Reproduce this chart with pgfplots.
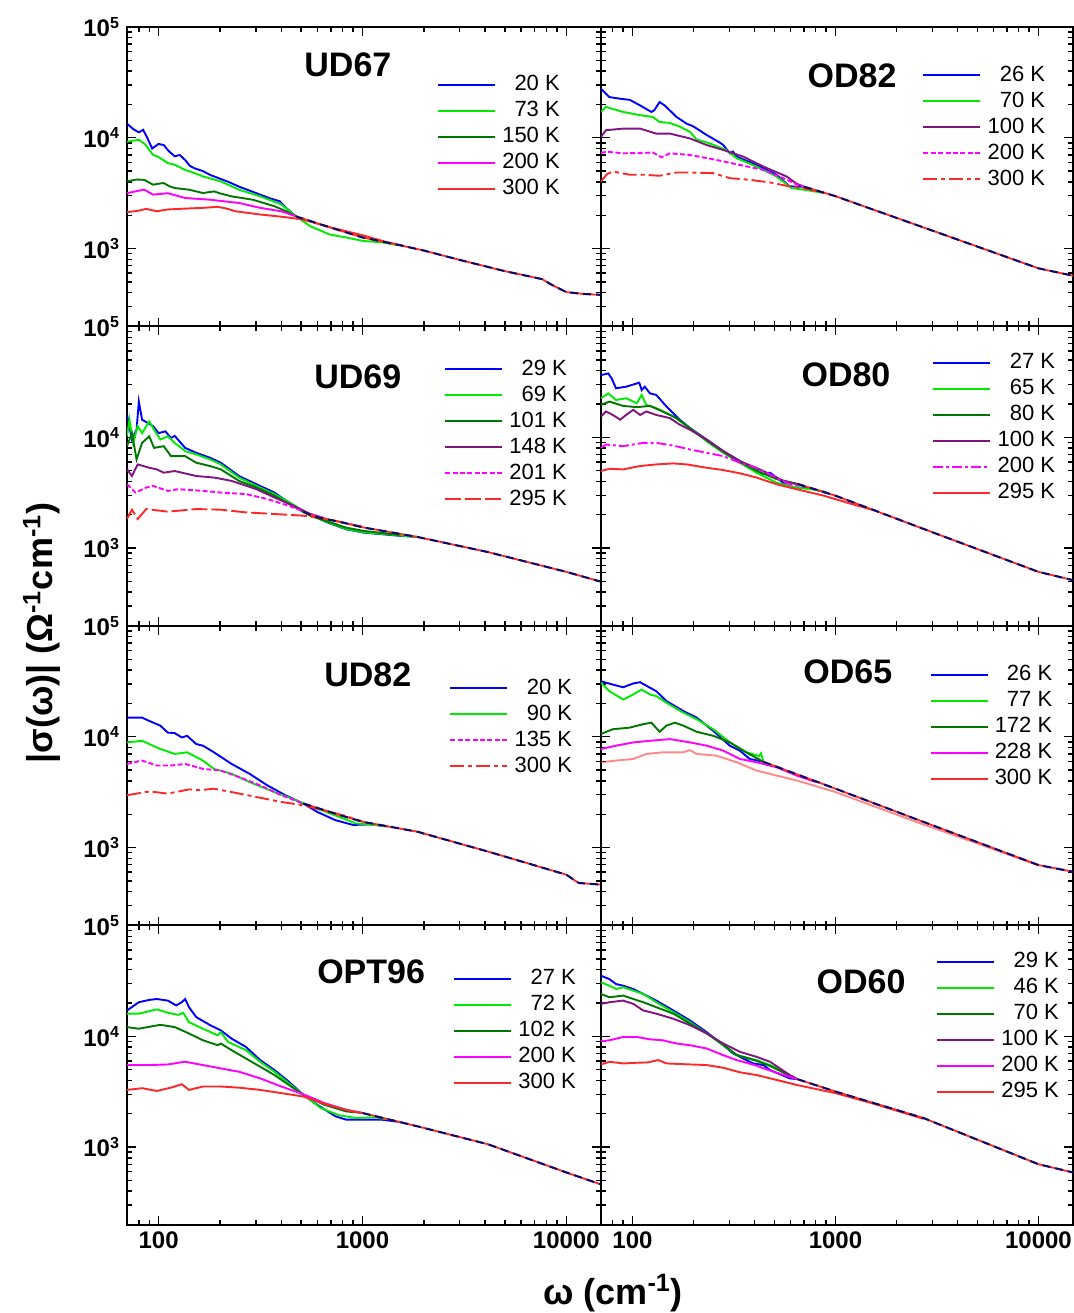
\documentclass[border=0pt]{standalone}
\usepackage{fontspec}
\setmainfont{Liberation Sans}
\usepackage{pgfplots}
\pgfplotsset{compat=1.18}
\definecolor{cblue}{RGB}{0,0,255}
\definecolor{cgreen}{RGB}{0,235,0}
\definecolor{cdgreen}{RGB}{0,120,0}
\definecolor{cpurple}{RGB}{130,20,130}
\definecolor{cmag}{RGB}{255,0,255}
\definecolor{cred}{RGB}{255,40,40}
\definecolor{cnavy}{RGB}{10,10,110}
\tikzset{
  ttl/.style={font=\bfseries\fontsize{17}{20}\selectfont},
  tailr/.style={cred, line width=0.9pt},
  tailn/.style={cnavy, line width=1pt, dash pattern=on 4pt off 2.5pt},
  sdash/.style={dash pattern=on 2.5pt off 1.2pt},
  ldash/.style={dash pattern=on 8pt off 2pt},
  ddot/.style={dash pattern=on 7pt off 2pt on 2pt off 2pt},
  sdot/.style={dash pattern=on 5pt off 1.5pt on 1.5pt off 1.5pt},
}
\pgfplotsset{
  panel/.style={
    scale only axis, height=149.75pt, anchor=south west,
    xmin=70, xmax=14800, ymin=198, ymax=100000,
    xtick={100,1000,10000}, xticklabels={,,},
    ytick={1000,10000,100000}, yticklabels={,,},
    minor xtick={70,80,90,200,300,400,500,600,700,800,900,2000,3000,4000,5000,6000,7000,8000,9000},
    minor ytick={200,300,400,500,600,700,800,900,2000,3000,4000,5000,6000,7000,8000,9000,20000,30000,40000,50000,60000,70000,80000,90000},
    xtick pos=both, ytick pos=both, tick align=inside,
    major tick length=4.5pt, minor tick length=2.5pt,
    tick style={black, line width=0.7pt},
    axis line style={line width=1pt},
    tick label style={font=\bfseries\fontsize{12}{14}\selectfont},
    legend cell align=right,
    legend image code/.code={\draw[##1, line width=1.25pt] (0pt,0pt) -- (28.5pt,0pt);},
    legend style={anchor=north east, draw=none, fill=none, inner sep=0pt, outer sep=0pt,
      font=\fontsize{11}{13}\selectfont, row sep=3pt, column sep=3pt,
      nodes={inner sep=0pt, text height=8pt, text depth=2pt}},
    every axis plot/.append style={line width=0.95pt},
  },
  leftcol/.style={panel, width=237pt, yticklabels={10\textsuperscript{3},10\textsuperscript{4},10\textsuperscript{5}}},
  rightcol/.style={panel, width=236pt},
}
\begin{document}
\begin{tikzpicture}
\useasboundingbox (0,0) rectangle (537pt,656.5pt);
%% ---------- UD67 ----------
\begin{loglogaxis}[leftcol, at={(63.5pt,493.25pt)}, legend style={at={(0.913,0.840)}}]
\addplot[cblue] coordinates {(70,13400)(75,12000)(80,11200)(84,11800)(88,10000)(93,8000)(100,8800)(106,8600)(112,7600)(120,6800)(127,7000)(135,6300)(142,5600)(150,5300)(165,5000)(180,4600)(220,4000)(250,3600)(315,3070)(350,2850)(393,2670)(420,2350)(470,1960)};
\addplot[cgreen] coordinates {(70,9200)(75,9400)(80,9600)(86,8700)(94,7000)(100,6700)(111,5900)(120,5700)(135,5130)(150,4800)(165,4480)(202,4040)(248,3400)(315,2960)(400,2500)(472,1960)(555,1590)(690,1340)(830,1260)(1010,1170)(1240,1140)(1500,1070)};
\addplot[cdgreen] coordinates {(70,4040)(78,4200)(85,4170)(94,3770)(100,3850)(106,3900)(113,3650)(120,3520)(141,3400)(165,3170)(187,3280)(200,3150)(228,2960)(290,2760)(370,2410)(420,2180)(470,1960)};
\addplot[cmag] coordinates {(70,3160)(78,3300)(85,3400)(94,3070)(111,3160)(135,2860)(179,2760)(248,2580)(315,2330)(400,2170)(470,1960)};
\addplot[cred] coordinates {(70,2130)(80,2200)(87,2280)(98,2170)(110,2250)(125,2280)(165,2330)(195,2380)(215,2300)(238,2170)(315,2030)(400,1940)(510,1830)(700,1550)(1000,1320)(1300,1150)(1600,1055)};
\addplot[tailr, forget plot] coordinates {(470,1960)(600,1690)(800,1430)(1000,1260)(1500,1080)(2000,960)(3000,790)(5000,625)(7600,530)(8500,470)(10000,405)(12000,390)(14800,382)};
\addplot[tailn, forget plot] coordinates {(470,1960)(600,1690)(800,1430)(1000,1260)(1500,1080)(2000,960)(3000,790)(5000,625)(7600,530)(8500,470)(10000,405)(12000,390)(14800,382)};
\legend{20 K,73 K,150 K,200 K,300 K}
\node[ttl] at (rel axis cs:0.466,0.873) {UD67};
\end{loglogaxis}
%% ---------- OD82 ----------
\begin{loglogaxis}[rightcol, at={(300.5pt,493.25pt)}, legend style={at={(0.941,0.873)}}]
\addplot[cblue] coordinates {(70,27700)(77,23300)(87,22500)(97,22000)(109,19600)(124,17100)(128,17700)(136,21000)(144,19600)(165,15400)(185,13400)(199,12700)(232,10600)(270,9020)(280,8600)(302,7240)(313,7500)(326,6760)(408,5690)(512,4640)(595,3640)(700,3620)};
\addplot[cgreen] coordinates {(70,17100)(74,19000)(80,18200)(90,17100)(109,16000)(126,15400)(136,13900)(153,13600)(171,12600)(192,11300)(207,9660)(240,8900)(290,7760)(326,6540)(408,5500)(512,4470)(608,3510)(700,3400)(873,3180)};
\addplot[cpurple] coordinates {(70,10200)(74,11700)(90,12100)(109,12100)(131,10900)(153,10900)(192,9860)(232,8600)(280,7760)(351,6760)(441,5500)(575,4470)(643,3850)(700,3620)};
\addplot[cmag, sdash] coordinates {(70,7240)(74,7500)(90,7240)(110,7300)(126,7350)(139,6670)(153,7240)(192,7000)(259,6310)(338,5690)(441,5130)(553,4320)(643,3800)(700,3620)};
\addplot[cred, ddot] coordinates {(70,4040)(75,4700)(80,4960)(97,4640)(113,4640)(136,4540)(165,4860)(192,4860)(250,4790)(302,4320)(379,4170)(476,3950)(595,3640)(700,3500)(900,3150)};
\addplot[tailr, forget plot] coordinates {(700,3620)(1000,2970)(1850,1990)(3940,1217)(10000,663)(14800,569)};
\addplot[tailn, forget plot] coordinates {(700,3620)(1000,2970)(1850,1990)(3940,1217)(10000,663)(14800,569)};
\legend{26 K,70 K,100 K,200 K,300 K}
\node[ttl] at (rel axis cs:0.532,0.836) {OD82};
\end{loglogaxis}
%% ---------- UD69 ----------
\begin{loglogaxis}[leftcol, at={(63.5pt,343.5pt)}, legend style={at={(0.928,0.891)}}]
\addplot[cblue] coordinates {(70,16000)(74,9540)(78,11700)(80,21000)(83,14400)(89,13400)(94,12600)(100,10900)(108,11300)(115,9860)(120,10300)(135,8020)(153,7240)(179,6530)(202,5890)(248,4470)(302,3770)(370,3170)(435,2580)(512,2130)(600,1880)(675,1700)(830,1480)(1010,1380)(1520,1290)(1860,1260)};
\addplot[cgreen] coordinates {(70,10200)(72,14400)(75,8900)(79,12600)(83,10900)(90,13900)(95,11700)(102,9540)(111,10200)(120,8900)(135,7500)(153,7000)(179,6310)(202,5690)(248,4330)(302,3640)(370,3070)(453,2500)(555,1960)(675,1710)(830,1490)(1010,1390)(1520,1300)(1860,1260)};
\addplot[cdgreen] coordinates {(70,8310)(74,10900)(78,6310)(83,8900)(90,10200)(95,8020)(106,8310)(115,6760)(135,6760)(153,5890)(179,5500)(202,5130)(248,4040)(302,3520)(370,2970)(453,2410)(555,1960)(675,1740)(830,1530)(1010,1430)(1520,1310)};
\addplot[cpurple] coordinates {(70,5130)(74,4470)(79,5690)(90,5310)(98,5130)(106,4790)(120,4960)(153,4470)(187,4330)(228,4040)(302,3400)(370,2860)(453,2440)(555,2030)(650,1860)};
\addplot[cmag, sdash] coordinates {(70,3770)(77,3170)(87,3520)(94,3640)(111,3280)(125,3400)(165,3280)(202,3170)(268,3070)(342,2770)(435,2410)(555,2030)(650,1860)};
\addplot[cred, ldash] coordinates {(70,1830)(74,2220)(79,1830)(87,2250)(111,2130)(153,2250)(202,2220)(268,2100)(370,2030)(512,1960)(675,1830)(800,1700)(1000,1560)};
\addplot[tailr, forget plot] coordinates {(512,2130)(600,1900)(800,1700)(1000,1540)(1860,1260)(4130,920)(10000,610)(14800,497)};
\addplot[tailn, forget plot] coordinates {(512,2130)(600,1900)(800,1700)(1000,1540)(1860,1260)(4130,920)(10000,610)(14800,497)};
\legend{29 K,69 K,101 K,148 K,201 K,295 K}
\node[ttl] at (rel axis cs:0.487,0.831) {UD69};
\end{loglogaxis}
%% ---------- OD80 ----------
\begin{loglogaxis}[rightcol, at={(300.5pt,343.5pt)}, legend style={at={(0.962,0.912)}}]
\addplot[cblue] coordinates {(70,36400)(76,37700)(79,34000)(83,27700)(93,28600)(108,31100)(111,26700)(115,28600)(122,24900)(131,24100)(147,19000)(171,14400)(192,12100)(232,9530)(280,7500)(338,6100)(441,4640)(476,4790)(595,3520)(720,3520)(900,3180)};
\addplot[cgreen] coordinates {(70,22500)(76,24900)(83,21700)(93,22500)(105,20300)(111,24100)(117,19600)(131,18300)(159,15400)(192,12100)(232,9200)(280,7240)(338,5890)(408,4790)(512,3890)(643,3520)(800,3350)(900,3180)};
\addplot[cdgreen] coordinates {(70,19600)(77,21000)(90,19200)(105,18700)(122,19200)(141,17100)(165,14900)(192,12100)(232,9400)(280,7400)(338,6000)(408,5000)(512,4200)(650,3800)};
\addplot[cpurple] coordinates {(70,15400)(74,17100)(80,15900)(87,14400)(93,15900)(101,17700)(109,15900)(117,17100)(131,15900)(153,14900)(171,13000)(192,11700)(232,9530)(280,7500)(338,6100)(441,4960)(553,4040)(667,3700)};
\addplot[cmag, sdot] coordinates {(70,8020)(74,8600)(90,8310)(113,8900)(131,8900)(159,8410)(192,7760)(232,7240)(280,6760)(338,5890)(408,5310)(494,4470)(595,3770)(700,3600)};
\addplot[cred] coordinates {(70,4960)(77,5200)(90,5130)(109,5500)(131,5690)(159,5810)(185,5690)(232,5310)(280,5060)(338,4730)(408,4330)(512,3770)(643,3400)(876,2970)(1200,2500)(1500,2230)};
\addplot[tailr, forget plot] coordinates {(650,3800)(1000,2970)(3000,1390)(10000,610)(14800,513)};
\addplot[tailn, forget plot] coordinates {(650,3800)(1000,2970)(3000,1390)(10000,610)(14800,513)};
\legend{27 K,65 K,80 K,100 K,200 K,295 K}
\node[ttl] at (rel axis cs:0.519,0.838) {OD80};
\end{loglogaxis}
%% ---------- UD82 ----------
\begin{loglogaxis}[leftcol, at={(63.5pt,193.75pt)}, legend style={at={(0.939,0.826)}}]
\addplot[cblue] coordinates {(70,14900)(83,14900)(90,13900)(102,12600)(111,10900)(120,10800)(130,9860)(138,10200)(153,8600)(165,8310)(187,7240)(228,5690)(279,4640)(342,3640)(418,2970)(512,2500)(600,2100)(735,1770)(900,1600)(1100,1620)(1340,1550)};
\addplot[cgreen] coordinates {(70,8890)(83,9200)(102,7760)(120,7000)(138,7240)(165,6100)(187,5130)(228,4640)(279,3900)(370,3170)(472,2670)(600,2250)(765,1900)(930,1650)(1140,1600)(1340,1550)};
\addplot[cmag, sdash] coordinates {(70,5690)(83,6100)(98,5500)(115,5500)(135,5690)(165,5130)(202,4960)(248,4330)(315,3640)(400,2970)(512,2500)};
\addplot[cred, ddot] coordinates {(70,2970)(90,3210)(111,3070)(141,3350)(160,3300)(187,3400)(228,3170)(302,2860)(400,2580)(512,2410)(675,2130)(850,1900)(1000,1720)};
\addplot[tailr, forget plot] coordinates {(512,2500)(600,2280)(750,2000)(1000,1710)(1860,1390)(4130,920)(10000,569)(11500,479)(14800,463)};
\addplot[tailn, forget plot] coordinates {(512,2500)(600,2280)(750,2000)(1000,1710)(1860,1390)(4130,920)(10000,569)(11500,479)(14800,463)};
\legend{20 K,90 K,135 K,300 K}
\node[ttl] at (rel axis cs:0.508,0.836) {UD82};
\end{loglogaxis}
%% ---------- OD65 ----------
\begin{loglogaxis}[rightcol, at={(300.5pt,193.75pt)}, legend style={at={(0.956,0.870)}}]
\addplot[cblue] coordinates {(70,31700)(80,29600)(90,28000)(101,30300)(109,31100)(122,27700)(131,25800)(147,21000)(178,17100)(207,14900)(250,11300)(302,8300)(338,7500)(378,6310)(441,5950)};
\addplot[cgreen] coordinates {(70,30700)(77,25800)(90,21700)(101,24100)(111,26700)(122,24100)(131,23300)(147,20300)(178,16500)(207,14400)(250,11700)(302,8900)(365,7240)(420,6700)(430,7100)(441,6000)};
\addplot[cdgreen] coordinates {(70,10600)(80,11700)(97,12100)(113,13000)(124,13400)(136,11100)(147,12600)(162,13400)(178,12600)(207,11100)(250,10200)(302,8900)(351,7500)(441,5950)};
\addplot[cmag] coordinates {(70,7760)(83,8310)(101,8900)(122,9200)(153,9530)(192,8900)(232,8310)(280,7500)(338,6310)(408,5890)(512,5310)(643,4470)(800,3900)};
\addplot[cred, opacity=0.55, forget plot] coordinates {(70,5890)(83,6100)(101,6310)(117,7000)(141,7240)(178,7240)(192,7590)(207,7000)(259,6760)(326,5890)(408,4960)(512,4470)(643,4040)(1000,3170)(2700,1620)(5000,1090)(10000,690)};
\addlegendimage{cred}
\addplot[tailr, forget plot] coordinates {(441,5950)(1000,3400)(2700,1710)(10000,695)(14800,605)};
\addplot[tailn, forget plot] coordinates {(441,5950)(1000,3400)(2700,1710)(10000,695)(14800,605)};
\legend{26 K,77 K,172 K,228 K,300 K}
\node[ttl] at (rel axis cs:0.523,0.846) {OD65};
\end{loglogaxis}
%% ---------- OPT96 ----------
\begin{loglogaxis}[leftcol, at={(63.5pt,44pt)}, xticklabels={100,1000,10000}, legend style={at={(0.947,0.855)}}]
\addplot[cblue] coordinates {(70,17100)(80,20300)(90,21300)(98,21700)(111,21000)(122,19000)(130,20300)(135,21700)(141,18300)(153,14900)(179,12600)(202,11300)(228,9530)(268,8020)(315,6100)(370,4960)(435,3900)(512,2970)(600,2410)(735,1900)(830,1770)(1010,1770)(1240,1770)(1500,1690)};
\addplot[cgreen] coordinates {(70,16000)(80,16000)(98,17500)(111,16300)(125,15600)(132,16300)(141,13400)(165,11700)(195,10200)(202,10900)(219,8900)(268,7500)(315,5890)(370,4790)(435,3770)(512,2970)(625,2250)(765,1940)(930,1830)(1140,1860)(1300,1790)};
\addplot[cdgreen] coordinates {(70,12100)(80,11700)(102,12700)(120,12100)(141,10600)(165,9200)(195,8310)(202,8600)(228,7500)(268,6310)(315,5310)(370,4470)(435,3640)(512,2970)(650,2410)(830,2100)(1000,2030)};
\addplot[cmag] coordinates {(70,5500)(90,5500)(111,5570)(135,5890)(165,5500)(202,5130)(248,4790)(315,4170)(400,3520)(512,3000)(650,2500)(830,2170)(1000,2030)};
\addplot[cred] coordinates {(70,3280)(83,3400)(98,3210)(115,3440)(130,3690)(141,3280)(165,3520)(202,3520)(248,3440)(315,3280)(400,3070)(512,2860)(675,2410)(850,2150)(1000,2030)};
\addplot[tailr, forget plot] coordinates {(1000,2030)(1860,1540)(4130,1060)(10000,590)(14800,460)};
\addplot[tailn, forget plot] coordinates {(1000,2030)(1860,1540)(4130,1060)(10000,590)(14800,460)};
\legend{27 K,72 K,102 K,200 K,300 K}
\node[ttl] at (rel axis cs:0.515,0.845) {OPT96};
\end{loglogaxis}
%% ---------- OD60 ----------
\begin{loglogaxis}[rightcol, at={(300.5pt,44pt)}, xticklabels={100,1000,10000}, legend style={at={(0.970,0.912)}}]
\addplot[cblue] coordinates {(70,35200)(77,32800)(83,29600)(90,28600)(101,26700)(113,24100)(131,21000)(159,17100)(192,13900)(232,10900)(280,8310)(313,7000)(351,6310)(393,5690)(441,5500)(476,4960)(595,4170)(650,4100)};
\addplot[cgreen] coordinates {(70,30700)(77,28600)(83,26700)(90,27700)(101,25800)(113,24100)(131,20300)(159,16500)(192,13400)(232,10600)(280,8310)(326,6760)(408,6100)(476,5500)(595,4470)(650,4100)};
\addplot[cdgreen] coordinates {(70,24100)(77,22500)(90,23300)(101,21700)(113,20300)(131,18300)(159,16000)(192,13000)(232,10700)(280,8400)(326,6800)(408,6000)(476,5400)(595,4400)(650,4100)};
\addplot[cpurple] coordinates {(70,19600)(77,20300)(90,21000)(101,19600)(113,17100)(131,16000)(159,14400)(192,12600)(232,10600)(280,8600)(338,7240)(408,6530)(476,5890)(595,4470)(650,4100)};
\addplot[cmag] coordinates {(70,9020)(77,9200)(90,9860)(105,9860)(122,9390)(141,9200)(165,8600)(192,8310)(232,7760)(280,6760)(326,6100)(400,5500)(476,4900)(595,4300)(650,4100)};
\addplot[cred] coordinates {(70,5570)(77,5890)(90,5690)(105,5770)(119,5810)(134,6100)(147,5690)(192,5570)(232,5500)(280,5200)(338,4730)(408,4470)(512,4040)(643,3640)(1000,3070)(1500,2500)(2710,1800)};
\addplot[tailr, forget plot] coordinates {(650,4100)(1000,3170)(2710,1830)(10000,700)(14800,590)};
\addplot[tailn, forget plot] coordinates {(650,4100)(1000,3170)(2710,1830)(10000,700)(14800,590)};
\legend{29 K,46 K,70 K,100 K,200 K,295 K}
\node[ttl] at (rel axis cs:0.551,0.811) {OD60};
\end{loglogaxis}
%% ---------- axis labels ----------
\node[rotate=90, font=\bfseries\fontsize{18}{20}\selectfont, inner sep=0pt] at (21pt,340pt) {|σ(ω)| (Ω\textsuperscript{-1}cm\textsuperscript{-1})};
\node[font=\bfseries\fontsize{18}{20}\selectfont, inner sep=0pt] at (306.5pt,10pt) {ω (cm\textsuperscript{-1})};
\end{tikzpicture}
\end{document}
